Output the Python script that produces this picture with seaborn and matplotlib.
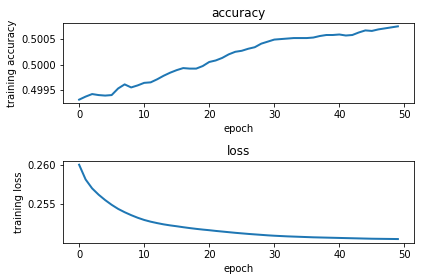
import matplotlib
matplotlib.use("Agg")
import matplotlib.pyplot as plt
import seaborn as sns
import numpy as np
import pandas as pd

epochs = list(range(50))
accuracy = [0.49931, 0.49937, 0.49942, 0.49940, 0.49939, 0.49940, 0.49953, 0.49961, 0.49955, 0.49959,
            0.49964, 0.49965, 0.49971, 0.49978, 0.49984, 0.49989, 0.49993, 0.49992, 0.49992, 0.49997,
            0.50005, 0.50008, 0.50013, 0.50020, 0.50025, 0.50027, 0.50031, 0.50034, 0.50041, 0.50045,
            0.50049, 0.50050, 0.50051, 0.50052, 0.50052, 0.50052, 0.50053, 0.50056, 0.50058, 0.50058,
            0.50059, 0.50057, 0.50058, 0.50063, 0.50067, 0.50066, 0.50069, 0.50071, 0.50073, 0.50075]
loss = [0.26000, 0.25813, 0.25700, 0.25620, 0.25552, 0.25492, 0.25440, 0.25398, 0.25361, 0.25328,
        0.25300, 0.25278, 0.25260, 0.25244, 0.25231, 0.25220, 0.25208, 0.25197, 0.25187, 0.25178,
        0.25170, 0.25161, 0.25153, 0.25145, 0.25137, 0.25130, 0.25123, 0.25117, 0.25111, 0.25105,
        0.25100, 0.25096, 0.25092, 0.25089, 0.25086, 0.25083, 0.25080, 0.25078, 0.25076, 0.25074,
        0.25072, 0.25070, 0.25068, 0.25066, 0.25064, 0.25062, 0.25061, 0.25060, 0.25059, 0.25058]

fig, (ax1, ax2) = plt.subplots(2, 1, figsize=(424/72, 280/72), dpi=72)
ax1.set_position([0.149, 0.631, 0.976-0.149, 0.919-0.631])
ax2.set_position([0.149, 0.133, 0.976-0.149, 0.425-0.133])

sns.lineplot(x=epochs, y=accuracy, ax=ax1, color="#1f77b4", linewidth=2)
ax1.set_title("accuracy")
ax1.set_xlabel("epoch")
ax1.set_ylabel("training accuracy")
ax1.ticklabel_format(axis="y", useOffset=False)

sns.lineplot(x=epochs, y=loss, ax=ax2, color="#1f77b4", linewidth=2)
ax2.set_title("loss")
ax2.set_xlabel("epoch")
ax2.set_ylabel("training loss")
ax2.ticklabel_format(axis="y", useOffset=False)

fig.savefig("out.png", dpi=72)
